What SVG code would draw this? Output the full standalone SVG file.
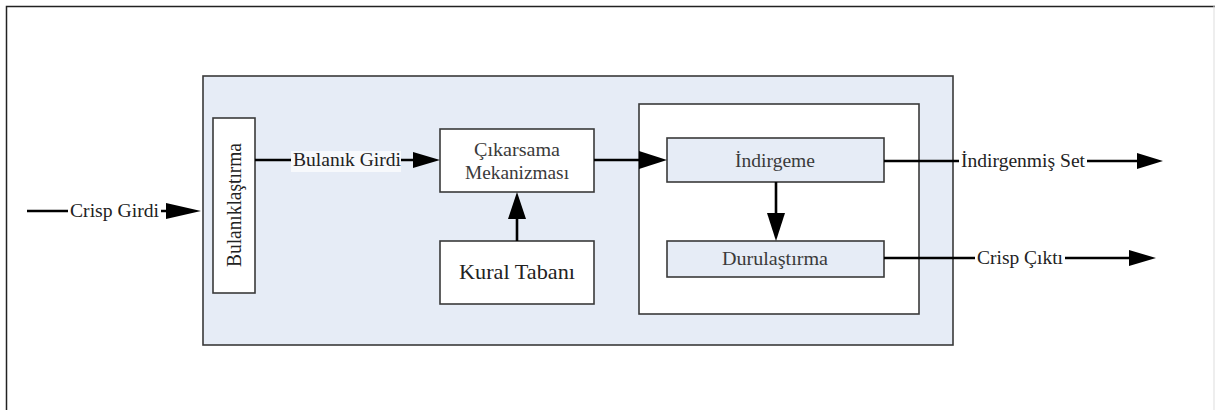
<svg xmlns="http://www.w3.org/2000/svg" width="1215" height="410" viewBox="0 0 1215 410">
<defs>
<style>
.box{stroke:#3a3a3a;stroke-width:1.6}
.lbl{font-family:"Liberation Serif","Times New Roman",serif;fill:#222}
.in{font-family:"Liberation Serif","Times New Roman",serif;fill:#3a3a3a;font-size:18.5px}
.c{stroke:#000;stroke-width:2.6;fill:none}
.ah{fill:#000}
</style>
</defs>
<rect x="0" y="0" width="1215" height="410" fill="#fff"/>
<path d="M6.5,410 L6.5,6.5 L1215,6.5" fill="none" stroke="#222" stroke-width="1.5"/>
<line x1="1214" y1="6" x2="1214" y2="410" stroke="#ddd" stroke-width="1"/>

<g id="system">
<rect class="box" x="203" y="76" width="750" height="269" fill="#e6ecf6"/>
</g>
<g id="reduction-group">
<rect class="box" x="639" y="104" width="280" height="210" fill="#fff"/>
</g>
<g id="bulaniklastirma">
<rect class="box" x="213" y="118" width="42" height="175" fill="#fff"/>
<text class="lbl" font-size="20" transform="translate(241,205) rotate(-90)" text-anchor="middle" textLength="124" lengthAdjust="spacingAndGlyphs">Bulanıklaştırma</text>
</g>
<g id="cikarsama">
<rect class="box" x="440" y="129" width="154" height="63" fill="#fff"/>
<text class="in" x="517" y="156" text-anchor="middle" textLength="86" lengthAdjust="spacingAndGlyphs">Çıkarsama</text>
<text class="in" x="517" y="179" text-anchor="middle" textLength="104" lengthAdjust="spacingAndGlyphs">Mekanizması</text>
</g>
<g id="kural-tabani">
<rect class="box" x="440" y="241" width="154" height="63" fill="#fff"/>
<text class="lbl" font-size="21" x="517" y="279" text-anchor="middle" textLength="116" lengthAdjust="spacingAndGlyphs">Kural Tabanı</text>
</g>
<g id="indirgeme">
<rect class="box" x="667" y="138" width="217" height="44" fill="#e6ecf6"/>
<text class="in" x="775" y="167" text-anchor="middle" textLength="80" lengthAdjust="spacingAndGlyphs">İndirgeme</text>
</g>
<g id="durulastirma">
<rect class="box" x="667" y="241" width="217" height="36" fill="#e6ecf6"/>
<text class="in" x="775" y="265" text-anchor="middle" textLength="106" lengthAdjust="spacingAndGlyphs">Durulaştırma</text>
</g>

<g id="connectors">
<line class="c" x1="27" y1="211" x2="168" y2="211"/>
<path class="ah" d="M166,203 L201,211 L166,219 z"/>
<rect x="68" y="200" width="93" height="22" fill="#fff"/>
<text class="lbl" font-size="19" x="70" y="217" textLength="89" lengthAdjust="spacingAndGlyphs">Crisp Girdi</text>

<line class="c" x1="255" y1="160" x2="415" y2="160"/>
<path class="ah" d="M413,152 L440,160 L413,168 z"/>
<rect x="291" y="151" width="110" height="21" fill="#f7f9fc"/>
<text class="lbl" font-size="19" x="293" y="166" textLength="108" lengthAdjust="spacingAndGlyphs">Bulanık Girdi</text>

<line class="c" x1="517" y1="241" x2="517" y2="217"/>
<path class="ah" d="M508,219 L517,192 L526,219 z"/>

<line class="c" x1="594" y1="160" x2="640" y2="160"/>
<path class="ah" d="M639,151 L667,160 L639,169 z"/>

<line class="c" x1="776" y1="182" x2="776" y2="215"/>
<path class="ah" d="M767,213 L776,241 L785,213 z"/>

<line class="c" x1="884" y1="161" x2="1139" y2="161"/>
<path class="ah" d="M1137,153 L1163,161 L1137,169 z"/>
<rect x="959" y="150" width="128" height="22" fill="#fff"/>
<text class="lbl" font-size="19" x="961" y="167" textLength="124" lengthAdjust="spacingAndGlyphs">İndirgenmiş Set</text>

<line class="c" x1="884" y1="258" x2="1131" y2="258"/>
<path class="ah" d="M1129,250 L1156,258 L1129,266 z"/>
<rect x="975" y="247" width="90" height="22" fill="#fff"/>
<text class="lbl" font-size="19" x="977" y="264" textLength="86" lengthAdjust="spacingAndGlyphs">Crisp Çıktı</text>
</g>
</svg>
